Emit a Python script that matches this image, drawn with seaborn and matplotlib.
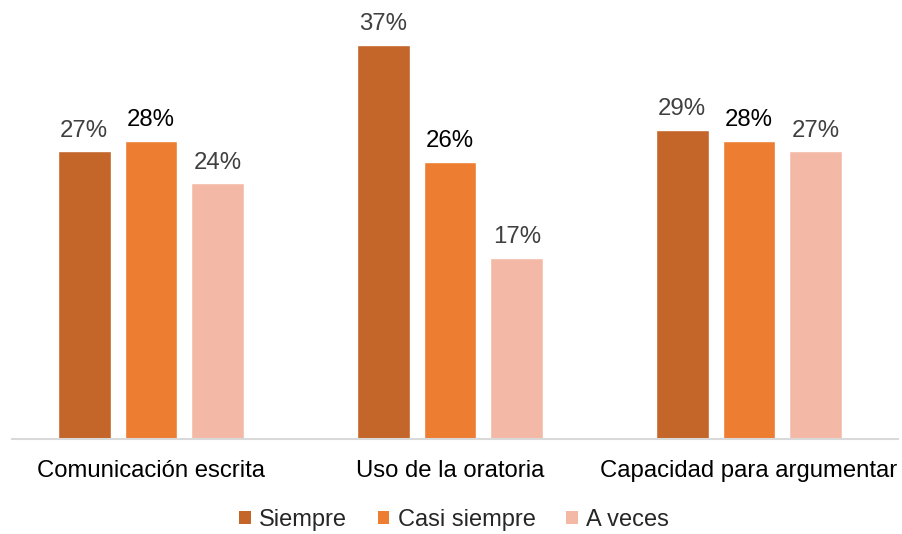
import matplotlib
matplotlib.use("Agg")
import matplotlib.pyplot as plt
import seaborn as sns
import pandas as pd
from matplotlib.patches import Patch

categories = ["Comunicación escrita", "Uso de la oratoria", "Capacidad para argumentar"]
series = ["Siempre", "Casi siempre", "A veces"]
siempre = [27, 37, 29]
casi_siempre = [28, 26, 28]
a_veces = [24, 17, 27]

colors = ["#C4652A", "#ED7D31", "#F4B9A6"]
label_colors = ["#404040", "#000000", "#404040"]

rows = []
for name, vals in zip(series, [siempre, casi_siempre, a_veces]):
    for cat, v in zip(categories, vals):
        rows.append({"categoria": cat, "serie": name, "valor": v})
df = pd.DataFrame(rows)

sns.set_style("white")
plt.rcParams["font.family"] = ["Liberation Sans", "DejaVu Sans"]

fig = plt.figure(figsize=(9.03, 5.34), dpi=100)
W, H = 903, 534
ax = fig.add_axes([12 / W, (H - 439) / H, (898 - 12) / W, (439 - 13) / H])

sns.barplot(data=df, x="categoria", y="valor", hue="serie", order=categories,
            hue_order=series, palette=colors, width=0.67, gap=0.21,
            saturation=1, legend=False, ax=ax)

for cont, lc in zip(ax.containers, label_colors):
    ax.bar_label(cont, labels=[f"{int(v)}%" for v in cont.datavalues],
                 padding=7, fontsize=17.3, color=lc)

ax.set_ylim(0, 40)
ax.set_xlim(-0.465, 2.498)
ax.set_xlabel("")
ax.set_ylabel("")
ax.set_yticks([])
ax.tick_params(axis="x", length=0, pad=15, labelsize=17.2, labelcolor="#000000")
for s in ["top", "right", "left"]:
    ax.spines[s].set_visible(False)
ax.spines["bottom"].set_color("#D9D9D9")
ax.spines["bottom"].set_linewidth(1.5)

handles = [Patch(facecolor=c, edgecolor="none", label=s) for c, s in zip(colors, series)]
fig.legend(handles=handles, loc="center", bbox_to_anchor=(454 / W, (H - 520) / H),
           ncol=3, frameon=False, fontsize=17, handlelength=0.5, handleheight=0.5,
           handletextpad=0.35, columnspacing=1.3)

fig.savefig("out.png", dpi=100)
